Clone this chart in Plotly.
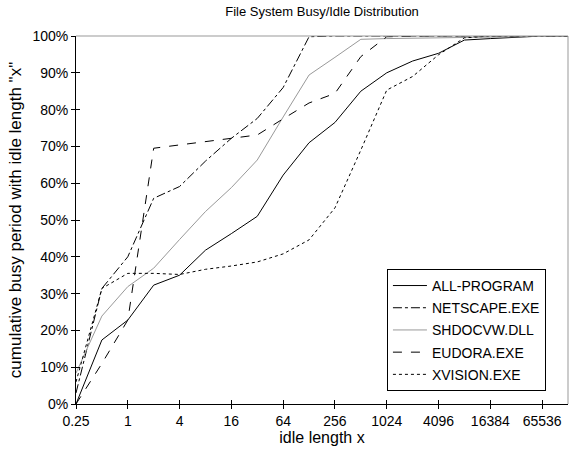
import math
import plotly.graph_objects as go

idle_length = [0.25, 0.5, 1, 2, 4, 8, 16, 32, 64, 128, 256, 512, 1024, 2048,
               4096, 8192, 16384, 32768, 65536, 131072]

all_program = [0, 17.4, 22.8, 32.3, 35.0, 41.8, 46.3, 51.0, 62.2, 71.0, 76.5, 85.0,
               90.0, 93.2, 95.3, 98.9, 99.3, 99.7, 100, 100]
netscape = [3, 31.4, 40.0, 55.9, 59.1, 66.0, 72.2, 77.6, 86.0, 99.8, 100, 100,
            100, 100, 100, 100, 100, 100, 100, 100]
shdocvw = [8.4, 23.9, 31.9, 36.9, 44.7, 52.3, 58.8, 66.3, 78.0, 89.4, 94.2, 99.1,
           99.3, 99.4, 99.4, 99.5, 99.6, 99.8, 100, 100]
eudora = [0, 11.0, 22.8, 69.5, 70.4, 71.3, 72.2, 73.1, 77.5, 81.8, 84.4, 94.4,
          99.8, 100, 100, 100, 100, 100, 100, 100]
xvision = [6, 31.4, 35.5, 35.5, 35.2, 36.6, 37.5, 38.6, 40.8, 44.6, 53.3, 69.0,
           85.3, 89.0, 94.9, 99.5, 100, 100, 100, 100]

tick_vals = [0.25, 1, 4, 16, 64, 256, 1024, 4096, 16384, 65536]
tick_text = ["0.25", "1", "4", "16", "64", "256", "1024", "4096", "16384", "65536"]
y_ticks = [0, 10, 20, 30, 40, 50, 60, 70, 80, 90, 100]
y_text = [f"{v}%" for v in y_ticks]

series = [
    ("ALL-PROGRAM", all_program, "black", "solid"),
    ("NETSCAPE.EXE", netscape, "black", "dashdot"),
    ("SHDOCVW.DLL", shdocvw, "#999999", "solid"),
    ("EUDORA.EXE", eudora, "black", "dash"),
    ("XVISION.EXE", xvision, "black", "dot"),
]

FONT = "Arial, Liberation Sans, sans-serif"
fig = go.Figure()
for i, (name, vals, col, dash) in enumerate(series):
    fig.add_trace(go.Scatter(
        x=idle_length, y=vals, mode="lines", name=name,
        legendgroup=f"g{i}",
        line=dict(color=col, width=1, dash=dash),
    ))

xr = [math.log10(idle_length[0]), math.log10(idle_length[-1])]

fig.update_layout(
    width=571, height=458,
    margin=dict(l=76, r=3, t=36, b=54),
    paper_bgcolor="white", plot_bgcolor="white",
    font=dict(family=FONT, size=14, color="black"),
    title=dict(text="File System Busy/Idle Distribution", x=0.564, xanchor="center",
               xref="container", y=0.974, yref="container", yanchor="middle",
               font=dict(size=13)),
    showlegend=True,
    legend=dict(x=0.632, y=0.367, xanchor="left", yanchor="top",
                bordercolor="black", borderwidth=1, bgcolor="white",
                font=dict(size=14), tracegroupgap=1, itemwidth=34),
    xaxis=dict(type="log", range=xr, tickvals=tick_vals, ticktext=tick_text,
               showgrid=False, showline=True, linecolor="black", linewidth=1,
               ticks="outside", ticklen=4, tickcolor="black",
               title=dict(text="idle length x", standoff=4, font=dict(size=16)),
               zeroline=False, automargin=False),
    yaxis=dict(range=[0, 100], tickvals=y_ticks, ticktext=y_text,
               showgrid=False, showline=True, linecolor="black", linewidth=1,
               ticks="outside", ticklen=4, tickcolor="black",
               title=dict(text='cumulative busy period with idle length "x"',
                          standoff=6, font=dict(size=17)),
               zeroline=False, automargin=False),
    xaxis2=dict(type="log", range=xr, overlaying="x", tickvals=tick_vals,
                showticklabels=False, ticks="inside", ticklen=4, tickcolor="black",
                showgrid=False, showline=False, side="bottom", anchor="y"),
    yaxis2=dict(range=[0, 100], overlaying="y", tickvals=y_ticks,
                showticklabels=False, ticks="inside", ticklen=4, tickcolor="black",
                showgrid=False, showline=False, side="left", anchor="x"),
)
fig.add_shape(type="line", xref="paper", yref="paper", x0=0, x1=1, y0=1, y1=1,
              line=dict(color="#999999", width=1))
fig.add_shape(type="line", xref="paper", yref="paper", x0=1, x1=1, y0=0, y1=1,
              line=dict(color="#999999", width=1))
fig.add_trace(go.Scatter(x=[idle_length[0]], y=[0], xaxis="x2", yaxis="y2",
                         mode="markers", marker=dict(opacity=0), showlegend=False,
                         hoverinfo="skip"))

fig.write_html("out.html", config={"displayModeBar": False},
               post_script="document.body.style.margin='0';")
